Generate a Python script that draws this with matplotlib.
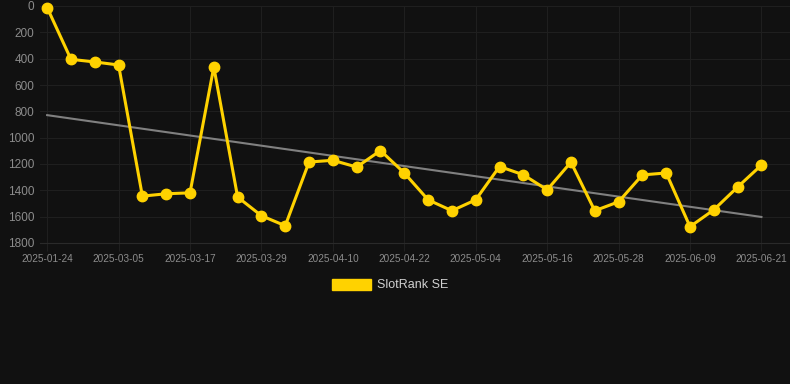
import matplotlib.pyplot as plt
import numpy as np

plt.rcParams["font.family"] = ["Liberation Sans", "DejaVu Sans"]

BG = "#111111"
GRID = "#1f1f1f"
TEXT = "#8c8c8c"
GOLD = "#ffd200"
TREND = "#808080"

dates = [
    "2025-01-24", "2025-02-07", "2025-02-21", "2025-03-05", "2025-03-09",
    "2025-03-13", "2025-03-17", "2025-03-21", "2025-03-25", "2025-03-29",
    "2025-04-02", "2025-04-06", "2025-04-10", "2025-04-14", "2025-04-18",
    "2025-04-22", "2025-04-26", "2025-04-30", "2025-05-04", "2025-05-08",
    "2025-05-12", "2025-05-16", "2025-05-20", "2025-05-24", "2025-05-28",
    "2025-06-01", "2025-06-05", "2025-06-09", "2025-06-13", "2025-06-17",
    "2025-06-21",
]
rank = [
    12, 405, 425, 448, 1444, 1426, 1419, 463, 1451, 1593,
    1669, 1185, 1172, 1223, 1098, 1268, 1472, 1555, 1472, 1219,
    1282, 1396, 1186, 1555, 1487, 1283, 1268, 1676, 1548, 1375,
    1208,
]
yticks = [0, 200, 400, 600, 800, 1000, 1200, 1400, 1600, 1800]

x = np.arange(len(dates))
y = np.array(rank, dtype=float)
slope, icpt = np.polyfit(x, y, 1)

fig = plt.figure(figsize=(7.9, 3.84), dpi=100, facecolor=BG)
ax = fig.add_axes([40 / 790, 1 - 243 / 384, 750 / 790, 237 / 384], facecolor=BG)

ax.plot(x, slope * x + icpt, color=TREND, lw=1.5, zorder=2)
ax.plot(x, y, color=GOLD, lw=2.2, marker="o", ms=7.5, zorder=3,
        label="SlotRank SE", clip_on=False)

ax.set_ylim(1800, 0)
ax.set_yticks(yticks)
ax.set_xlim(-0.3, len(dates) - 1 + 1.2)
ax.set_xticks(x[::3])
ax.set_xticklabels(dates[::3])

ax.grid(True, color=GRID, lw=0.8)
ax.set_axisbelow(True)
for s in ax.spines.values():
    s.set_visible(False)
ax.spines["bottom"].set_visible(True)
ax.spines["bottom"].set_color("#2a2a2a")
ax.tick_params(axis="x", colors=GRID, labelcolor=TEXT, labelsize=7.2, length=6, width=0.8, pad=2)
ax.tick_params(axis="y", colors=GRID, labelcolor=TEXT, labelsize=8.5, length=0, pad=4)

leg = fig.legend(handles=[plt.Rectangle((0, 0), 1, 1, color=GOLD)], labels=["SlotRank SE"],
                 loc="center", bbox_to_anchor=(0.494, 1 - 285 / 384), frameon=False,
                 handlelength=3.1, handleheight=1.0, handletextpad=0.5, fontsize=9)
for t in leg.get_texts():
    t.set_color("#d0d0d0")

fig.savefig("out.png", dpi=100, facecolor=BG)
